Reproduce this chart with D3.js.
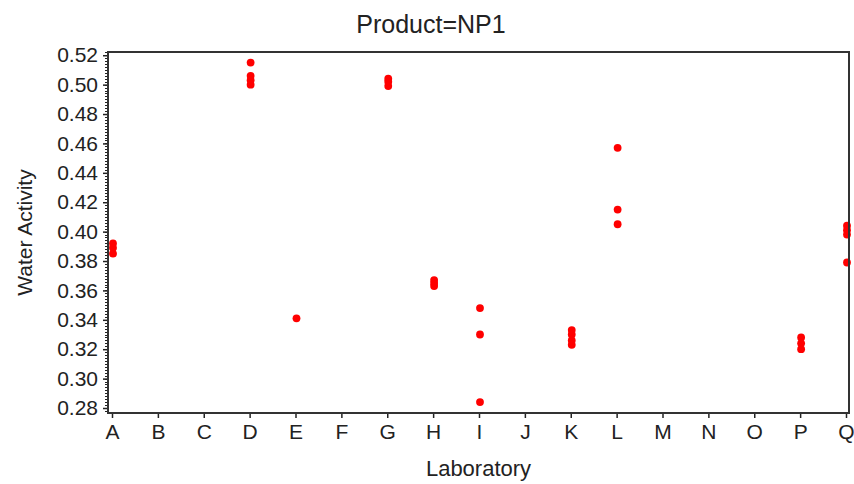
<!DOCTYPE html>
<html>
<head>
<meta charset="utf-8">
<script src="https://cdn.jsdelivr.net/npm/d3@7/dist/d3.min.js"></script>
<style>
  html, body { margin: 0; padding: 0; background: #ffffff; }
  svg { display: block; }
  text { font-family: "Liberation Sans", Arial, sans-serif; fill: #222; }
</style>
</head>
<body>
<svg id="chart" width="854" height="484"></svg>
<script>
// Laboratories on the x axis
const labs = ["A","B","C","D","E","F","G","H","I","J","K","L","M","N","O","P","Q"];

// Water activity readings per laboratory (product NP1)
const labA = [0.392, 0.389, 0.385];
const labD = [0.515, 0.506, 0.503, 0.500];
const labE = [0.341];
const labG = [0.504, 0.502, 0.499];
const labH = [0.367, 0.365, 0.363];
const labI = [0.348, 0.330, 0.284];
const labK = [0.333, 0.330, 0.326, 0.323];
const labL = [0.457, 0.415, 0.405];
const labP = [0.328, 0.324, 0.320];
const labQ = [0.404, 0.401, 0.398, 0.379];

const yTicks = [0.28, 0.30, 0.32, 0.34, 0.36, 0.38, 0.40, 0.42, 0.44, 0.46, 0.48, 0.50, 0.52];

const readings = [
  ["A", labA], ["D", labD], ["E", labE], ["G", labG], ["H", labH],
  ["I", labI], ["K", labK], ["L", labL], ["P", labP], ["Q", labQ]
].flatMap(([lab, vals]) => vals.map(v => ({ lab, v })));

const svg = d3.select("#chart");
const plot = { left: 108, right: 849, top: 52, bottom: 413 };

const x = d3.scalePoint().domain(labs).range([112, 846]);
const y = d3.scaleLinear().domain([0.2766, 0.5222]).range([plot.bottom, plot.top]);

// Title
svg.append("text")
  .attr("x", 431).attr("y", 33)
  .attr("text-anchor", "middle")
  .style("font-size", "25px")
  .text("Product=NP1");

// Minor y ticks every 0.002
const minor = d3.range(139, 262).map(i => i / 500).filter(v => v >= 0.2766 && v <= 0.5222);
svg.append("g").selectAll("line").data(minor).join("line")
  .attr("x1", plot.left - 3).attr("x2", plot.left)
  .attr("y1", d => Math.round(y(d)) + 0.5).attr("y2", d => Math.round(y(d)) + 0.5)
  .attr("stroke", "#222").attr("stroke-width", 1);

// Y axis
const yAxis = d3.axisLeft(y).tickValues(yTicks).tickFormat(d3.format(".2f")).tickSize(5).tickPadding(5);
const gy = svg.append("g").attr("transform", `translate(${plot.left},0)`).call(yAxis);
gy.select(".domain").remove();
gy.selectAll(".tick line").attr("stroke", "#222").attr("stroke-width", 1.5);
gy.selectAll(".tick text").style("font-size", "21px").attr("fill", "#222")
  .style("font-family", "'Liberation Sans', Arial, sans-serif");

// X axis
const xAxis = d3.axisBottom(x).tickSize(5).tickPadding(6);
const gx = svg.append("g").attr("transform", `translate(0,${plot.bottom})`).call(xAxis);
gx.select(".domain").remove();
gx.selectAll(".tick line").attr("stroke", "#222").attr("stroke-width", 1.5);
gx.selectAll(".tick text").style("font-size", "21px").attr("fill", "#222")
  .style("font-family", "'Liberation Sans', Arial, sans-serif");

// Points
svg.append("g").selectAll("circle").data(readings).join("circle")
  .attr("cx", d => x(d.lab) + 1)
  .attr("cy", d => y(d.v))
  .attr("r", 3.9)
  .attr("fill", "#ff0000");

// Frame
svg.append("rect")
  .attr("x", plot.left).attr("y", plot.top)
  .attr("width", plot.right - plot.left).attr("height", plot.bottom - plot.top)
  .attr("fill", "none").attr("stroke", "#333").attr("stroke-width", 2);

// Axis titles
svg.append("text")
  .attr("x", (plot.left + plot.right) / 2).attr("y", 476)
  .attr("text-anchor", "middle")
  .style("font-size", "22px")
  .text("Laboratory");

svg.append("text")
  .attr("transform", `translate(32,${(plot.top + plot.bottom) / 2}) rotate(-90)`)
  .attr("text-anchor", "middle")
  .style("font-size", "21px")
  .text("Water Activity");
</script>
</body>
</html>
